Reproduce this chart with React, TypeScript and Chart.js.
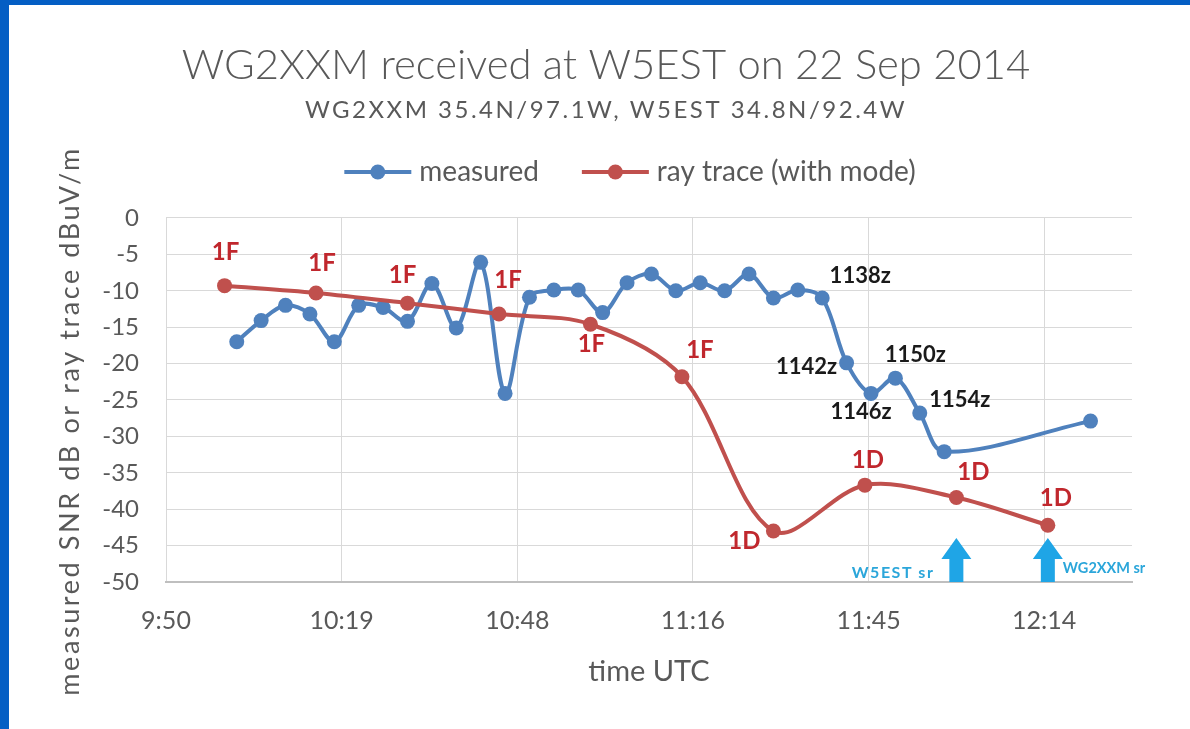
import React, { useEffect, useRef } from "react";
import { Chart, registerables } from "chart.js";

Chart.register(...registerables);

// ---------- data ----------
const titleText = "WG2XXM received at W5EST on 22 Sep 2014";
const subtitleText = "WG2XXM 35.4N/97.1W, W5EST 34.8N/92.4W";
const yAxisTitle = "measured SNR dB or ray trace dBuV/m";
const xAxisTitle = "time UTC";

const measuredLabel = "measured";
const measuredTimes = [
  "10:02", "10:06", "10:10", "10:14", "10:18", "10:22", "10:26", "10:30",
  "10:34", "10:38", "10:42", "10:46", "10:50", "10:54", "10:58", "11:02",
  "11:06", "11:10", "11:14", "11:18", "11:22", "11:26", "11:30", "11:34",
  "11:38", "11:42", "11:46", "11:50", "11:54", "11:58", "12:22",
];
const measuredValues = [
  -17, -14.1, -12, -13.2, -17, -12, -12.3, -14.2,
  -9, -15.1, -6.1, -24.1, -10.9, -9.9, -9.9, -13,
  -8.9, -7.7, -10, -8.9, -10, -7.7, -11, -9.9,
  -11, -19.9, -24.1, -22, -26.8, -32.1, -27.9,
];
const markedTimes = ["11:38", "11:42", "11:46", "11:50", "11:54"];
const markedTexts = ["1138z", "1142z", "1146z", "1150z", "1154z"];

const rayLabel = "ray trace (with mode)";
const rayTimes = ["10:00", "10:15", "10:30", "10:45", "11:00", "11:15", "11:30", "11:45", "12:00", "12:15"];
const rayValues = [-9.3, -10.3, -11.7, -13.2, -14.6, -21.8, -43.0, -36.7, -38.4, -42.2];
const rayModes = ["1F", "1F", "1F", "1F", "1F", "1F", "1D", "1D", "1D", "1D"];

const sunriseTimes = ["12:00", "12:15"];
const sunriseTexts = ["W5EST sr", "WG2XXM sr"];

// x axis in minutes after midnight (Excel day fractions 0.41 .. 0.52)
const xMinMinutes = 590.4;
const xMaxMinutes = 748.8;
const xTickMinutes = [590.4, 619.2, 648, 676.8, 705.6, 734.4];
const xTickLabels = ["9:50", "10:19", "10:48", "11:16", "11:45", "12:14"];
const yMin = -50;
const yMax = 0;
const yStep = 5;

// ---------- layout / style (not data) ----------
const TEXT = "#595959";
const BLUE = "#4f81bd";
const RED = "#c0504d";
const MODE_RED = "#c0272d";
const ARROW = "#1fa5e6";
const ARROW_TEXT = "#2ba6da";
const FONT = "Lato";

const modeOffsets: [number, number][] = [
  [1, -33], [6, -30], [-5, -28], [9, -34], [1, 20], [18, -26], [-29, 10], [3, -25], [17, -25], [8, -27],
];
const markedOffsets: [number, number][] = [
  [38, -22], [-40, 4], [-10, 18], [20, -23], [40, -13],
];

const toMinutes = (t: string) => {
  const [h, m] = t.split(":").map(Number);
  return h * 60 + m;
};

const annotationPlugin = {
  id: "annotations",
  afterDatasetsDraw(chart: any) {
    const { ctx, scales } = chart;
    const xs = scales.x;
    const ys = scales.y;
    ctx.save();

    // mode labels on ray trace
    ctx.font = `bold 24px ${FONT}`;
    ctx.fillStyle = MODE_RED;
    ctx.textAlign = "center";
    ctx.textBaseline = "middle";
    rayTimes.forEach((t, i) => {
      const px = xs.getPixelForValue(toMinutes(t));
      const py = ys.getPixelForValue(rayValues[i]);
      const [dx, dy] = modeOffsets[i];
      ctx.fillText(rayModes[i], px + dx, py + dy);
    });

    // time tags on measured
    ctx.font = `bold 22px ${FONT}`;
    ctx.fillStyle = "#1a1a1a";
    markedTimes.forEach((t, i) => {
      const idx = measuredTimes.indexOf(t);
      const px = xs.getPixelForValue(toMinutes(t));
      const py = ys.getPixelForValue(measuredValues[idx]);
      const [dx, dy] = markedOffsets[i];
      ctx.fillText(markedTexts[i], px + dx, py + dy);
    });

    // sunrise arrows
    const base = ys.getPixelForValue(yMin);
    sunriseTimes.forEach((t, i) => {
      const px = xs.getPixelForValue(toMinutes(t));
      const tip = base - 44;
      const neck = base - 23;
      ctx.beginPath();
      ctx.moveTo(px, tip);
      ctx.lineTo(px + 15, neck);
      ctx.lineTo(px + 7, neck);
      ctx.lineTo(px + 7, base);
      ctx.lineTo(px - 7, base);
      ctx.lineTo(px - 7, neck);
      ctx.lineTo(px - 15, neck);
      ctx.closePath();
      ctx.fillStyle = ARROW;
      ctx.fill();

      ctx.fillStyle = ARROW_TEXT;
      if (i === 0) {
        ctx.font = `bold 16px ${FONT}`;
        (ctx as any).letterSpacing = "1.5px";
        ctx.textAlign = "right";
        ctx.fillText(sunriseTexts[i], px - 22, base - 9);
      } else {
        ctx.font = `bold 14.5px ${FONT}`;
        (ctx as any).letterSpacing = "0px";
        ctx.textAlign = "left";
        ctx.fillText(sunriseTexts[i], px + 15, base - 14);
      }
      (ctx as any).letterSpacing = "0px";
    });
    ctx.restore();
  },
  afterDraw(chart: any) {
    const { ctx } = chart;
    ctx.save();

    // subtitle (letter-spaced)
    ctx.font = `24px ${FONT}`;
    (ctx as any).letterSpacing = "2.5px";
    ctx.fillStyle = TEXT;
    ctx.textAlign = "center";
    ctx.textBaseline = "middle";
    ctx.fillText(subtitleText, 606, 110);
    (ctx as any).letterSpacing = "0px";

    // custom legend: line + marker + text
    const legendY = 172;
    const lineLen = 67;
    const gap = 8;
    const itemGap = 43;
    ctx.font = `28px ${FONT}`;
    const items = chart.data.datasets.map((ds: any) => ({ text: ds.label, color: ds.borderColor }));
    const widths = items.map((it: any) => lineLen + gap + ctx.measureText(it.text).width);
    const total = widths.reduce((a: number, b: number) => a + b, 0) + itemGap * (items.length - 1);
    let x = 630 - total / 2;
    items.forEach((it: any, i: number) => {
      ctx.strokeStyle = it.color;
      ctx.lineWidth = 4;
      ctx.beginPath();
      ctx.moveTo(x, legendY);
      ctx.lineTo(x + lineLen, legendY);
      ctx.stroke();
      ctx.fillStyle = it.color;
      ctx.beginPath();
      ctx.arc(x + lineLen / 2, legendY, 7.5, 0, Math.PI * 2);
      ctx.fill();
      ctx.fillStyle = TEXT;
      ctx.textAlign = "left";
      ctx.textBaseline = "middle";
      ctx.fillText(it.text, x + lineLen + gap, legendY);
      x += widths[i] + itemGap;
    });

    // y axis title (rotated, letter-spaced)
    ctx.translate(70, 421);
    ctx.rotate(-Math.PI / 2);
    ctx.font = `27px ${FONT}`;
    (ctx as any).letterSpacing = "2.6px";
    ctx.fillStyle = TEXT;
    ctx.textAlign = "center";
    ctx.textBaseline = "middle";
    ctx.fillText(yAxisTitle, 0, 0);
    (ctx as any).letterSpacing = "0px";
    ctx.restore();
  },
};

export default function App() {
  const canvasRef = useRef<HTMLCanvasElement | null>(null);

  useEffect(() => {
    if (!canvasRef.current) return;
    const measuredPoints = measuredTimes.map((t, i) => ({ x: toMinutes(t), y: measuredValues[i] }));
    const rayPoints = rayTimes.map((t, i) => ({ x: toMinutes(t), y: rayValues[i] }));

    const chart = new Chart(canvasRef.current, {
      type: "line",
      data: {
        datasets: [
          {
            label: measuredLabel,
            data: measuredPoints,
            borderColor: BLUE,
            backgroundColor: BLUE,
            pointBackgroundColor: BLUE,
            pointBorderWidth: 0,
            pointRadius: 7.5,
            borderWidth: 4,
            tension: 0.33,
            order: 1,
          },
          {
            label: rayLabel,
            data: rayPoints,
            borderColor: RED,
            backgroundColor: RED,
            pointBackgroundColor: RED,
            pointBorderWidth: 0,
            pointRadius: 7.5,
            borderWidth: 4,
            tension: 0.33,
            order: 0,
          },
        ],
      },
      options: {
        responsive: false,
        animation: false,
        layout: { padding: { left: 80, right: 58, top: 0, bottom: 0 } },
        plugins: {
          legend: { display: false },
          tooltip: { enabled: false },
          title: {
            display: true,
            text: titleText,
            color: TEXT,
            font: { family: FONT, size: 41.8, weight: 300, lineHeight: 1.2 },
            padding: { top: 40, bottom: 127.8 },
          },
          subtitle: { display: false },
        },
        scales: {
          x: {
            type: "linear",
            min: xMinMinutes,
            max: xMaxMinutes,
            afterBuildTicks: (scale: any) => {
              scale.ticks = xTickMinutes.map((v) => ({ value: v }));
            },
            ticks: {
              autoSkip: false,
              maxRotation: 0,
              color: TEXT,
              padding: 24,
              font: { family: FONT, size: 25, lineHeight: 1.2 },
              callback: (_v: any, i: number) => xTickLabels[i],
            },
            grid: { color: "#d9d9d9", lineWidth: 1, drawTicks: false },
            border: { display: true, color: "#bfbfbf", width: 2 },
            title: {
              display: true,
              text: xAxisTitle,
              color: TEXT,
              font: { family: FONT, size: 29, lineHeight: 1.2 },
              padding: { top: -5.4, bottom: 39.6 },
            },
          },
          y: {
            min: yMin,
            max: yMax,
            afterFit: (scale: any) => {
              scale.width = 86;
            },
            ticks: {
              stepSize: yStep,
              color: TEXT,
              padding: 27,
              font: { family: FONT, size: 24, lineHeight: 1.2 },
            },
            grid: { color: "#d9d9d9", lineWidth: 1, drawTicks: false },
            border: { display: false },
          },
        },
      },
      plugins: [annotationPlugin],
    } as any);

    return () => chart.destroy();
  }, []);

  return (
    <div style={{ position: "fixed", left: 0, top: 0, width: 1190, height: 729, background: "#045ec4" }}>
      <div style={{ position: "absolute", left: 9, top: 5, width: 1181, height: 724, background: "#ffffff" }} />
      <canvas
        ref={canvasRef}
        width={1190}
        height={729}
        style={{ position: "absolute", left: 0, top: 0, width: 1190, height: 729 }}
      />
    </div>
  );
}
